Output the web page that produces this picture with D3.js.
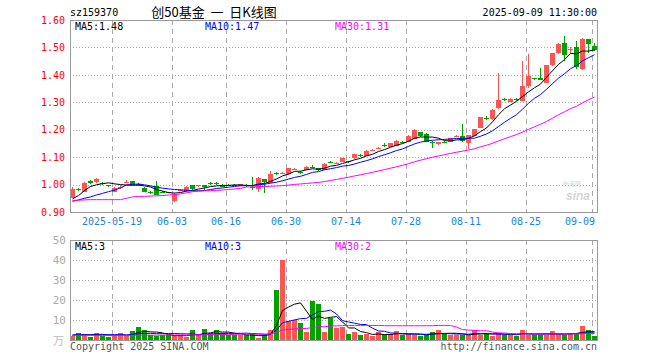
<!DOCTYPE html>
<html>
<head>
<meta charset="utf-8">
<script src="https://cdn.jsdelivr.net/npm/d3@7"></script>
<style>
  body { margin: 0; background: #fff; }
  text { font-family: "DejaVu Sans Mono", monospace; }
</style>
</head>
<body>
<div id="chart"></div>
<script>
// 交易日
const dates = [
  "2025-05-08","2025-05-09","2025-05-12","2025-05-13","2025-05-14","2025-05-15","2025-05-16",
  "2025-05-19","2025-05-20","2025-05-21","2025-05-22","2025-05-23",
  "2025-05-26","2025-05-27","2025-05-28","2025-05-29","2025-05-30",
  "2025-06-03","2025-06-04","2025-06-05","2025-06-06",
  "2025-06-09","2025-06-10","2025-06-11","2025-06-12","2025-06-13",
  "2025-06-16","2025-06-17","2025-06-18","2025-06-19","2025-06-20",
  "2025-06-23","2025-06-24","2025-06-25","2025-06-26","2025-06-27",
  "2025-06-30","2025-07-01","2025-07-02","2025-07-03","2025-07-04",
  "2025-07-07","2025-07-08","2025-07-09","2025-07-10","2025-07-11",
  "2025-07-14","2025-07-15","2025-07-16","2025-07-17","2025-07-18",
  "2025-07-21","2025-07-22","2025-07-23","2025-07-24","2025-07-25",
  "2025-07-28","2025-07-29","2025-07-30","2025-07-31","2025-08-01",
  "2025-08-04","2025-08-05","2025-08-06","2025-08-07","2025-08-08",
  "2025-08-11","2025-08-12","2025-08-13","2025-08-14","2025-08-15",
  "2025-08-18","2025-08-19","2025-08-20","2025-08-21","2025-08-22",
  "2025-08-25","2025-08-26","2025-08-27","2025-08-28","2025-08-29",
  "2025-09-01","2025-09-02","2025-09-03","2025-09-04","2025-09-05",
  "2025-09-08","2025-09-09"
];

const opens = [
  0.952,0.984,0.973,1.013,1.007,1.005,0.998,0.975,0.990,1.009,
  1.013,1.001,0.988,0.972,0.995,0.974,0.972,0.942,0.979,0.975,
  0.997,0.995,0.997,1.005,1.005,1.000,0.998,0.998,0.995,0.999,
  0.990,0.985,1.020,1.008,1.042,1.041,1.038,1.054,1.045,1.053,
  1.064,1.059,1.055,1.081,1.079,1.082,1.085,1.094,1.109,1.107,
  1.125,1.134,1.145,1.138,1.141,1.157,1.156,1.167,1.191,1.186,
  1.157,1.148,1.157,1.156,1.176,1.177,1.152,1.177,1.206,1.244,
  1.239,1.280,1.313,1.303,1.313,1.305,1.359,1.387,1.389,1.371,
  1.435,1.479,1.516,1.489,1.500,1.420,1.530,1.506
];
const highs = [
  0.990,0.986,1.008,1.015,1.024,1.010,1.000,0.990,0.997,1.015,
  1.014,1.004,0.990,0.975,1.013,0.978,0.974,0.968,0.984,0.993,
  0.999,1.000,0.999,1.009,1.008,1.001,1.001,1.001,1.003,1.002,
  1.028,1.026,1.022,1.051,1.046,1.047,1.061,1.060,1.050,1.066,
  1.071,1.060,1.077,1.085,1.083,1.098,1.087,1.111,1.113,1.125,
  1.128,1.138,1.150,1.153,1.161,1.160,1.180,1.201,1.192,1.187,
  1.160,1.157,1.160,1.170,1.180,1.222,1.182,1.203,1.247,1.250,
  1.275,1.408,1.316,1.317,1.315,1.451,1.475,1.390,1.426,1.436,
  1.479,1.517,1.542,1.500,1.525,1.533,1.531,1.516
];
const lows = [
  0.950,0.975,0.972,1.002,1.005,0.998,0.992,0.973,0.985,1.005,
  0.999,0.995,0.972,0.967,0.961,0.970,0.968,0.936,0.975,0.973,
  0.981,0.992,0.979,0.998,0.999,0.990,0.993,0.994,0.993,0.992,
  0.979,0.973,0.970,1.006,1.036,1.038,1.036,1.052,1.040,1.052,
  1.059,1.049,1.054,1.077,1.076,1.081,1.080,1.093,1.102,1.106,
  1.122,1.131,1.138,1.137,1.140,1.153,1.155,1.166,1.174,1.155,
  1.135,1.143,1.152,1.155,1.173,1.155,1.130,1.176,1.205,1.236,
  1.237,1.277,1.305,1.300,1.303,1.303,1.352,1.382,1.380,1.370,
  1.434,1.476,1.452,1.478,1.420,1.418,1.479,1.488
];
const closes = [
  0.983,0.982,1.007,1.005,1.019,1.004,0.997,0.988,0.992,1.010,
  1.000,1.000,0.975,0.971,0.963,0.973,0.971,0.967,0.980,0.991,
  0.983,0.997,0.988,1.004,1.004,0.992,0.997,0.997,1.002,0.997,
  0.988,1.025,1.008,1.040,1.041,1.043,1.060,1.056,1.044,1.065,
  1.063,1.051,1.076,1.080,1.080,1.097,1.084,1.110,1.108,1.124,
  1.126,1.135,1.144,1.152,1.160,1.156,1.177,1.200,1.175,1.158,
  1.156,1.156,1.156,1.169,1.177,1.160,1.181,1.202,1.246,1.242,
  1.273,1.310,1.311,1.313,1.311,1.359,1.396,1.385,1.381,1.435,
  1.478,1.512,1.472,1.494,1.426,1.530,1.512,1.491
];
// 成交量（万）
const volumes = [
  2.0,3.6,3.2,1.7,3.6,2.0,1.3,2.3,3.6,2.3,
  4.3,6.6,4.8,2.3,1.8,2.3,2.3,2.3,2.3,1.5,
  4.8,2.3,5.6,3.6,5.0,3.3,2.3,2.7,2.3,2.3,
  2.8,1.0,2.7,5.0,25,40,9.5,10,8.3,4.0,
  19.7,18,4.0,11,5.8,6.5,2.8,4.0,2.3,2.8,
  2.0,4.0,2.3,2.8,4.5,2.7,2.8,2.7,2.0,2.7,
  4.0,5.0,2.8,2.3,2.7,2.7,2.3,4.8,2.7,3.3,
  2.0,3.7,2.7,2.7,2.0,5.0,2.7,2.7,2.7,2.7,
  4.3,2.8,2.3,3.7,3.3,6.8,5.0,2.0
];

// 窗口起点之前的均线值
const ma5Head  = [0.948,0.960,0.978,0.993];
const ma10Head = [0.939,0.944,0.950,0.955,0.962,0.968,0.974,0.980,0.988];
const ma30Head = [
  0.942,0.943,0.944,0.945,0.945,0.945,0.945,0.945,0.945,0.950,
  0.955,0.957,0.957,0.958,0.959,0.960,0.962,0.963,0.966,0.970,
  0.974,0.976,0.977,0.978,0.979,0.980,0.982,0.984,0.986
];
const vma5Head  = [2.3,2.5,2.6,2.6];
const vma10Head = [2.6,2.6,2.6,2.6,2.6,2.6,2.7,2.7,2.7];
const vma30Head = [
  2.3,2.3,2.3,2.3,2.3,2.3,2.3,2.3,2.3,2.3,
  2.3,2.4,2.4,2.4,2.4,2.4,2.5,2.5,2.5,2.5,
  2.6,2.6,2.6,2.7,2.7,2.7,2.8,2.8,2.9
];

const tickDates = ["2025-05-19","2025-06-03","2025-06-16","2025-06-30","2025-07-14",
                   "2025-07-28","2025-08-11","2025-08-25","2025-09-09"];
const priceTicks = [0.9,1.0,1.1,1.2,1.3,1.4,1.5,1.6];
const volTicks = [10,20,30,40,50];
const maLabels = [1.48, 1.47, 1.31];
const volMaLabels = [3, 3, 2];

const RED = "#ff5454", GREEN = "#00a100";
const MA_COLORS = ["#000000", "#0000ff", "#ff00ff"];

const svg = d3.select("#chart").append("svg")
  .attr("width", 660).attr("height", 360)
  .style("display", "block");

const L = 70, R = 597;
const MAIN_TOP = 20, MAIN_BOT = 212;
const VOL_TOP = 240, VOL_BOT = 340;

const x = d3.scaleBand().domain(dates).range([L, L + 6 * dates.length]).padding(0);
const y = d3.scaleLinear().domain([0.9, 1.6]).range([MAIN_BOT, MAIN_TOP]);
const vy = d3.scaleLinear().domain([0, 50]).range([VOL_BOT, VOL_TOP]);

function movingAvg(vals, n, head) {
  return vals.map((v, i) => i < n - 1 ? head[i] : d3.mean(vals.slice(i - n + 1, i + 1)));
}

const bars = dates.map((d, i) => ({
  date: d, o: opens[i], h: highs[i], l: lows[i], c: closes[i], v: volumes[i],
  up: closes[i] >= opens[i]
}));

// ---- 网格 ----
function hGrid(scale, ticks, x0, x1) {
  svg.append("g").selectAll("line").data(ticks).join("line")
    .attr("x1", x0).attr("x2", x1)
    .attr("y1", d => Math.round(scale(d)) + 0.5).attr("y2", d => Math.round(scale(d)) + 0.5)
    .attr("stroke", "#aaa").attr("stroke-dasharray", "1,2")
    .attr("shape-rendering", "crispEdges");
}
function vGrid(y0, y1) {
  svg.append("g").selectAll("line").data(tickDates).join("line")
    .attr("x1", d => Math.round(x(d)) + 0.5).attr("x2", d => Math.round(x(d)) + 0.5)
    .attr("y1", y0).attr("y2", y1)
    .attr("stroke", "#aaa").attr("stroke-dasharray", "5,4")
    .attr("shape-rendering", "crispEdges");
}
hGrid(y, priceTicks.slice(1, -1), L, R);
hGrid(vy, volTicks.slice(0, -1), L, R);
vGrid(MAIN_TOP, MAIN_BOT);
vGrid(VOL_TOP, VOL_BOT);

// 水印
svg.append("text").attr("x", 572).attr("y", 186).attr("text-anchor", "middle")
  .style("font-family", "'Noto Sans CJK SC'").style("font-size", "6px")
  .attr("fill", "#d6d6d6").text("新浪网");
svg.append("text").attr("x", 578).attr("y", 200).attr("text-anchor", "middle")
  .style("font-family", "'Liberation Sans'").style("font-size", "12px")
  .style("font-style", "italic").style("font-weight", "bold")
  .attr("fill", "#d6d6d6").text("sina");

// ---- K线 ----
const bw = 5;
const candles = svg.append("g");
candles.selectAll("line").data(bars).join("line")
  .attr("x1", d => x(d.date) + 2.5).attr("x2", d => x(d.date) + 2.5)
  .attr("y1", d => y(d.h)).attr("y2", d => y(d.l))
  .attr("stroke", d => d.up ? RED : GREEN)
  .attr("shape-rendering", "crispEdges");
candles.selectAll("rect").data(bars).join("rect")
  .attr("x", d => x(d.date))
  .attr("width", bw)
  .attr("y", d => Math.round(y(Math.max(d.o, d.c))))
  .attr("height", d => Math.max(1, Math.round(Math.abs(y(d.o) - y(d.c)))))
  .attr("fill", d => d.up ? RED : GREEN)
  .attr("shape-rendering", "crispEdges");

const priceMAs = [movingAvg(closes, 5, ma5Head), movingAvg(closes, 10, ma10Head), movingAvg(closes, 30, ma30Head)];
priceMAs.forEach((ma, k) => {
  svg.append("path")
    .datum(ma)
    .attr("fill", "none").attr("stroke", MA_COLORS[k]).attr("stroke-width", 1)
    .attr("d", d3.line().x((v, i) => x(dates[i]) + 2.5).y(v => y(v)));
});

// ---- 成交量 ----
svg.append("g").selectAll("rect").data(bars).join("rect")
  .attr("x", d => x(d.date))
  .attr("width", bw)
  .attr("y", d => Math.round(vy(d.v)))
  .attr("height", d => VOL_BOT - Math.round(vy(d.v)))
  .attr("fill", d => d.up ? RED : GREEN)
  .attr("shape-rendering", "crispEdges");

const volMAs = [movingAvg(volumes, 5, vma5Head), movingAvg(volumes, 10, vma10Head), movingAvg(volumes, 30, vma30Head)];
volMAs.forEach((ma, k) => {
  svg.append("path")
    .datum(ma)
    .attr("fill", "none").attr("stroke", MA_COLORS[k]).attr("stroke-width", 1)
    .attr("d", d3.line().x((v, i) => x(dates[i]) + 2.5).y(v => vy(v)));
});

// ---- 边框 ----
[[MAIN_TOP, MAIN_BOT], [VOL_TOP, VOL_BOT]].forEach(([t, b]) => {
  svg.append("rect")
    .attr("x", L + 0.5).attr("y", t + 0.5)
    .attr("width", R - L).attr("height", b - t)
    .attr("fill", "none").attr("stroke", "#999")
    .attr("shape-rendering", "crispEdges");
});

// ---- 坐标轴 ----
const yAxis = svg.append("g").attr("transform", `translate(${L},0)`)
  .call(d3.axisLeft(y).tickValues(priceTicks).tickFormat(d3.format(".2f")).tickSize(0).tickPadding(5));
yAxis.select(".domain").remove();
yAxis.selectAll("text").attr("fill", "#ff0000")
  .style("font-family", "'DejaVu Sans Mono'").style("font-size", "10px");

const vAxis = svg.append("g").attr("transform", `translate(${L},0)`)
  .call(d3.axisLeft(vy).tickValues(volTicks).tickFormat(d3.format("d")).tickSize(0).tickPadding(4));
vAxis.select(".domain").remove();
vAxis.selectAll("text").attr("fill", "#aaa")
  .style("font-family", "'DejaVu Sans Mono'").style("font-size", "11px");

svg.append("text").attr("x", 64).attr("y", 345).attr("text-anchor", "end")
  .style("font-family", "'Noto Sans CJK SC'").style("font-size", "11px")
  .attr("fill", "#bbb").text("万");

svg.append("g").selectAll("text").data(tickDates).join("text")
  .attr("x", (d, i) => i === tickDates.length - 1 ? R - 2 : x(d))
  .attr("y", 225)
  .attr("text-anchor", (d, i) => i === tickDates.length - 1 ? "end" : "middle")
  .attr("fill", "#1a86d6")
  .style("font-size", "10px")
  .text((d, i) => i === 0 ? d : d.slice(5));

// ---- 文字 ----
svg.append("text").attr("x", L).attr("y", 16).style("font-size", "10px")
  .attr("fill", "#000").text("sz159370");
svg.append("text").attr("x", 214).attr("y", 17).attr("text-anchor", "middle")
  .style("font-family", "'Noto Sans CJK SC'").style("font-size", "13px")
  .attr("fill", "#000").text("创50基金\u00a0\u00a0一\u00a0\u00a0日K线图");
svg.append("text").attr("x", R).attr("y", 16).attr("text-anchor", "end")
  .style("font-size", "10px").attr("fill", "#000").text("2025-09-09 11:30:00");

const labelX = [75, 205, 335];
["MA5", "MA10", "MA30"].forEach((name, k) => {
  svg.append("text").attr("x", labelX[k]).attr("y", 30).style("font-size", "10px")
    .attr("fill", MA_COLORS[k]).text(`${name}:${d3.format(".2f")(maLabels[k])}`);
  svg.append("text").attr("x", labelX[k]).attr("y", 250).style("font-size", "10px")
    .attr("fill", MA_COLORS[k]).text(`${name}:${volMaLabels[k]}`);
});

svg.append("text").attr("x", L).attr("y", 350).style("font-size", "10px")
  .attr("fill", "#555").text("Copyright 2025 SINA.COM");
svg.append("text").attr("x", R).attr("y", 350).attr("text-anchor", "end")
  .style("font-size", "10px").attr("fill", "#555").text("http://finance.sina.com.cn");
</script>
</body>
</html>
